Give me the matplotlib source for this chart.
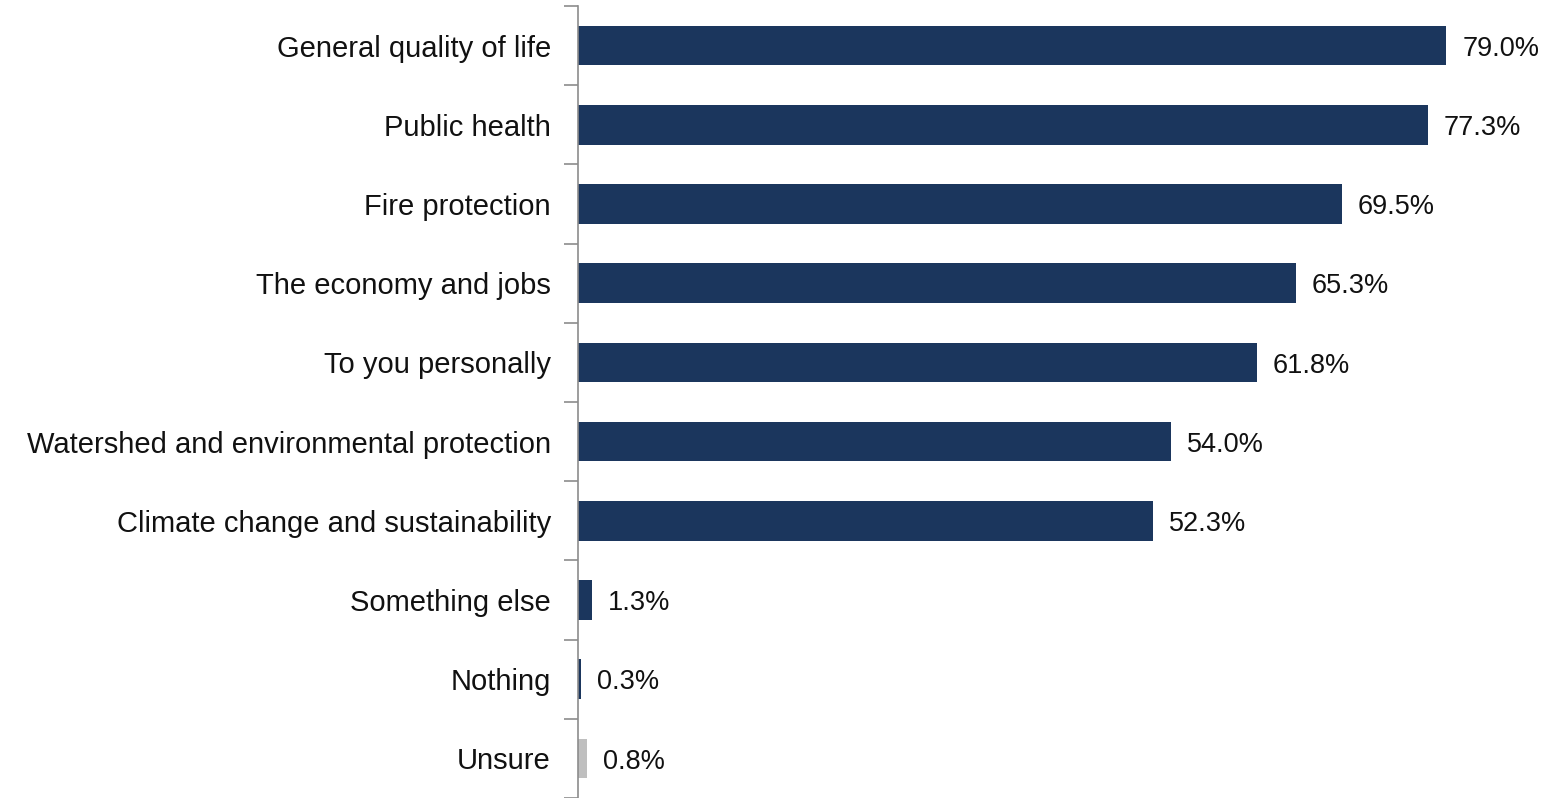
import matplotlib
matplotlib.use("Agg")
import matplotlib.pyplot as plt
import numpy as np

# survey categories, top to bottom
categories = [
    "General quality of life",
    "Public health",
    "Fire protection",
    "The economy and jobs",
    "To you personally",
    "Watershed and environmental protection",
    "Climate change and sustainability",
    "Something else",
    "Nothing",
    "Unsure",
]
values = [79.0, 77.3, 69.5, 65.3, 61.8, 54.0, 52.3, 1.3, 0.3, 0.8]
value_labels = ["79.0%", "77.3%", "69.5%", "65.3%", "61.8%", "54.0%", "52.3%", "1.3%", "0.3%", "0.8%"]

navy = "#1b365d"
grey = "#bfbfbf"
colors = [navy] * 9 + [grey]

plt.rcParams["font.family"] = ["Liberation Sans", "DejaVu Sans"]

fig = plt.figure(figsize=(15.6, 7.98), dpi=100)
ax = fig.add_axes([578 / 1560, 0.0, 1 - 578 / 1560, 1 - 6 / 798])

y = np.arange(len(categories))
ax.barh(y, values, height=0.5, color=colors)
ax.set_ylim(len(categories) - 0.5, -0.5)
ax.set_xlim(0, (1560 - 578) / 10.99)

for yi, v, lab in zip(y, values, value_labels):
    ax.text(v + 1.45, yi + 0.04, lab, va="center", ha="left", fontsize=19.5, color="#111111")

# category labels between boundary ticks
ax.set_yticks(y)
ax.set_yticklabels(categories, fontsize=21, color="#111111")
ax.tick_params(axis="y", which="major", length=0, pad=19.5)
ax.set_yticks(np.arange(len(categories) + 1) - 0.5, minor=True)
ax.tick_params(axis="y", which="minor", length=10, width=1.2, color="#8c8c8c")

ax.set_xticks([])
for side in ["top", "right", "bottom"]:
    ax.spines[side].set_visible(False)
ax.spines["left"].set_color("#8c8c8c")
ax.spines["left"].set_linewidth(1.2)

fig.savefig("out.png", dpi=100)
